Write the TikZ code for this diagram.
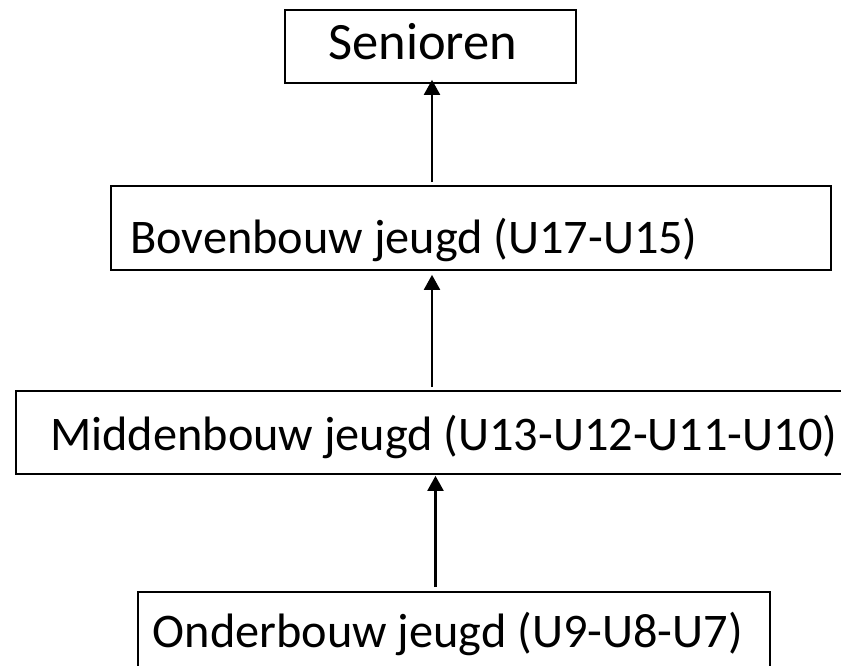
\documentclass[tikz,border=0pt]{standalone}
\usepackage{fontspec}
\setmainfont{Carlito}
\usetikzlibrary{arrows.meta}
\begin{document}
\begin{tikzpicture}[x=1pt,y=-1pt,
  box/.style={draw=black,line width=1.7pt,inner sep=0pt,fill=none},
  lbl/.style={anchor=base west,inner sep=0pt,font=\fontsize{48.3}{58}\selectfont},
  biglbl/.style={anchor=base west,inner sep=0pt,font=\fontsize{52.5}{62}\selectfont},
  arr/.style={line width=2.1pt,-{Triangle[width=16pt,length=15pt]}}]
\useasboundingbox[fill=white] (0,0) rectangle (841,666);
% boxes
\node[box,minimum width=291pt,minimum height=73pt] (sen) at (430.5,46.5) {};
\node[box,minimum width=720pt,minimum height=84pt] (bov) at (470.7,228) {};
\node[box,minimum width=844pt,minimum height=83pt] (mid) at (438,432.5) {};
\node[box,minimum width=632pt,minimum height=90pt] (ond) at (454,637) {};
% texts
\node[biglbl] (tsen) at (328,60) {Senioren};
\node[lbl] (tbov) at (130,253) {Bovenbouw jeugd (U17-U15)};
\node[lbl] (tmid) at (50,450) {Middenbouw jeugd (U13-U12-U11-U10)};
\node[lbl] (tond) at (152.5,647) {Onderbouw jeugd (U9-U8-U7)};
% arrow columns
\coordinate (c1) at (432,0);
\coordinate (c2) at (432,0);
\coordinate (c3) at (435.5,0);
\draw[arr,shorten <=3pt,shorten >=-4pt] (bov.north -| c1) -- (sen.south -| c1);
\draw[arr,shorten <=3pt,shorten >=4pt] (mid.north -| c2) -- (bov.south -| c2);
\draw[arr,shorten <=4pt,shorten >=1pt] (ond.north -| c3) -- (mid.south -| c3);
\end{tikzpicture}
\end{document}
